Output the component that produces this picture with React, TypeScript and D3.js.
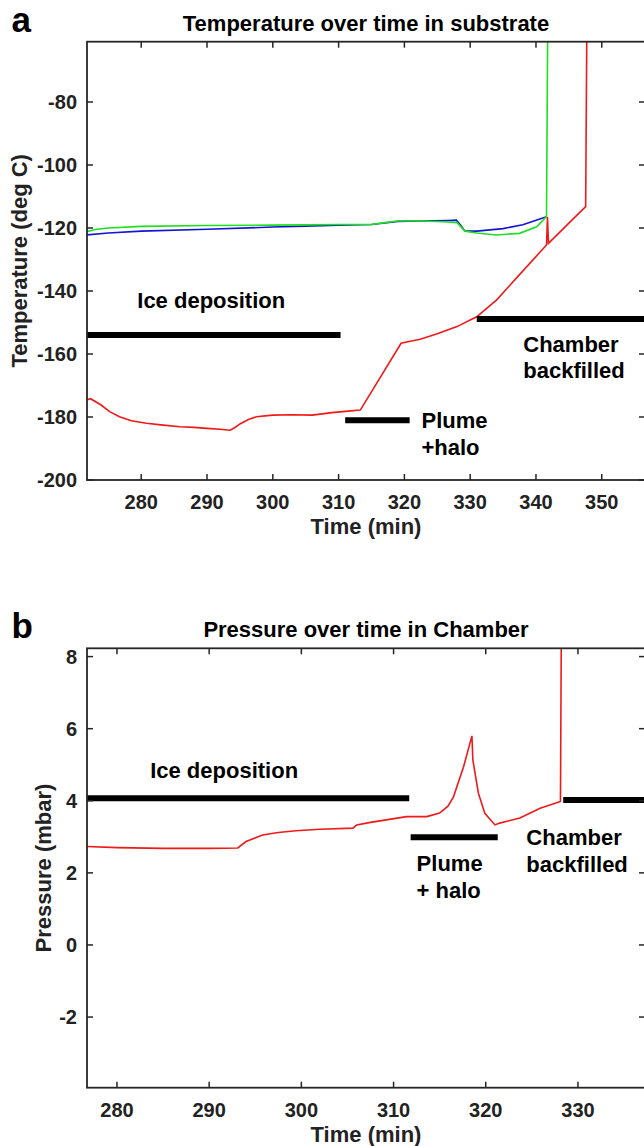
import React from "react";
import * as d3 from "d3";

// tick values
const tempTimeTicks = [280, 290, 300, 310, 320, 330, 340, 350];
const tempTicks = [-200, -180, -160, -140, -120, -100, -80];
const pressTimeTicks = [280, 290, 300, 310, 320, 330];
const pressTicks = [-2, 0, 2, 4, 6, 8];

// panel a: temperature traces [time (min), deg C]
const tempRed: [number, number][] = [
  [271.7, -174.6], [272.3, -174.2], [273.9, -176.2], [275.2, -178.3], [276.7, -179.9],
  [278.5, -181.2], [280.8, -182], [283, -182.5], [285.9, -183.1], [288, -183.3],
  [290, -183.6], [292, -183.9], [293.5, -184.2], [294.2, -183.4], [295, -182.2],
  [296.3, -180.8], [297.5, -179.9], [300, -179.4], [303, -179.3], [306, -179.4],
  [309, -178.6], [311, -178.2], [313.3, -177.8], [319.5, -156.6], [320.5, -156.1],
  [322.4, -155.3], [325, -153.6], [328, -151.3], [330.3, -148.9], [331, -148.2],
  [332.5, -145.5], [334, -142.9], [337.5, -134.8], [341.6, -125.4], [341.75, -116.5],
  [341.9, -124.9], [344.5, -119.5], [347.55, -113.2], [347.75, -50],
];
const tempGreen: [number, number][] = [
  [271.7, -121.2], [273, -120.5], [275, -120], [280, -119.5], [290, -119.2],
  [300, -119.1], [305, -119], [310, -118.9], [315, -118.9], [317, -118.3],
  [319, -117.8], [322.4, -117.8], [326, -118], [328, -118.3], [329.2, -121],
  [331, -121.6], [334, -122.2], [337.5, -121.7], [340.1, -119.6], [341.6, -116.4],
  [341.8, -50],
];
const tempBlue: [number, number][] = [
  [271.7, -122.2], [275, -121.6], [280, -121], [290, -120.4], [300, -119.7],
  [305, -119.4], [310, -119.1], [315, -118.9], [317, -118.4], [319, -117.9],
  [322.4, -117.8], [326.6, -117.6], [327.9, -117.5], [328.5, -119], [329.2, -121],
  [331, -121], [335, -120.2], [338, -119], [341.6, -116.4],
];

// panel b: chamber pressure [time (min), mbar]
const pressRed: [number, number][] = [
  [276.75, 2.73], [280, 2.7], [285, 2.68], [290, 2.68], [293.1, 2.69], [294, 2.87],
  [295.8, 3.05], [297.5, 3.12], [299.4, 3.17], [302, 3.21], [305.6, 3.24], [306, 3.33],
  [307.5, 3.4], [309.2, 3.47], [311.4, 3.56], [313.6, 3.56], [315, 3.66], [315.9, 3.85],
  [316.5, 4.11], [317.6, 4.95], [318.5, 5.8], [318.6, 5.13], [319.2, 4.21], [319.9, 3.65],
  [321, 3.33], [321.5, 3.38], [323.7, 3.52], [325.9, 3.79], [328.1, 3.98], [328.2, 9],
];

// phase bars [start, end, level]
const tempBars: [number, number, number][] = [
  [271.7, 310.3, -154], [311.0, 320.8, -181], [331.0, 360, -148.9],
];
const pressBars: [number, number, number][] = [
  [276.75, 311.7, 4.07], [311.85, 321.3, 2.99], [328.4, 340, 4.02],
];

// phase labels [time, level, lines]
const tempNotes: [number, number, string[]][] = [
  [279.4, -145.4, ["Ice deposition"]],
  [322.6, -183.5, ["Plume", "+halo"]],
  [338.07, -159.3, ["Chamber", "backfilled"]],
];
const pressNotes: [number, number, string[]][] = [
  [283.6, 4.63, ["Ice deposition"]],
  [312.5, 2.05, ["Plume", "+ halo"]],
  [324.4, 2.77, ["Chamber", "backfilled"]],
];

const font = "'Liberation Sans', Arial, Helvetica, sans-serif";
const axisColor = "#262626";

type Series = { data: [number, number][]; color: string };

function Panel(props: {
  id: string;
  letter: string;
  letterY: number;
  title: string;
  yLabel: string;
  yLabelX: number;
  top: number;
  bottom: number;
  xDomain: [number, number];
  yDomain: [number, number];
  xTicks: number[];
  yTicks: number[];
  series: Series[];
  bars: [number, number, number][];
  notes: [number, number, string[]][];
}) {
  const left = 87;
  const right = 645;
  const { top, bottom } = props;
  const x = d3.scaleLinear().domain(props.xDomain).range([left, right]);
  const y = d3.scaleLinear().domain(props.yDomain).range([bottom, top]);
  const line = d3
    .line<[number, number]>()
    .x((d) => x(d[0]))
    .y((d) => y(d[1]));
  const cx = (left + right) / 2;
  const tl = 6;

  return (
    <g>
      <defs>
        <clipPath id={props.id}>
          <rect x={left} y={top} width={right - left} height={bottom - top} />
        </clipPath>
      </defs>
      <text x={11.5} y={props.letterY} fontSize={35} fontWeight="bold" fontFamily={font}>
        {props.letter}
      </text>
      <text x={cx} y={top - 11} textAnchor="middle" fontSize={22} fontWeight="bold" fontFamily={font}>
        {props.title}
      </text>

      <g clipPath={`url(#${props.id})`}>
        {props.series.map((s, i) => (
          <path key={i} d={line(s.data) || ""} fill="none" stroke={s.color} strokeWidth={1.6} />
        ))}
        {props.bars.map((b, i) => (
          <line key={i} x1={x(b[0])} x2={x(b[1])} y1={y(b[2])} y2={y(b[2])} stroke="#000" strokeWidth={6} />
        ))}
      </g>

      {props.notes.map((n, i) => (
        <text key={i} x={x(n[0])} y={y(n[1])} fontSize={22} fontWeight="bold" fontFamily={font}>
          {n[2].map((s, j) => (
            <tspan key={j} x={x(n[0])} dy={j === 0 ? 0 : 26.5}>
              {s}
            </tspan>
          ))}
        </text>
      ))}

      {/* frame */}
      <rect x={left} y={top} width={right - left} height={bottom - top} fill="none" stroke={axisColor} strokeWidth={1.8} />
      {props.xTicks.map((t) => (
        <g key={t}>
          <line x1={x(t)} x2={x(t)} y1={bottom} y2={bottom - tl} stroke={axisColor} strokeWidth={1.5} />
          <line x1={x(t)} x2={x(t)} y1={top} y2={top + tl} stroke={axisColor} strokeWidth={1.5} />
          <text x={x(t)} y={bottom + 29} textAnchor="middle" fontSize={20} fontWeight="bold" fontFamily={font} fill="#222">
            {t}
          </text>
        </g>
      ))}
      {props.yTicks.map((t) => (
        <g key={t}>
          <line x1={left} x2={left + tl} y1={y(t)} y2={y(t)} stroke={axisColor} strokeWidth={1.5} />
          <line x1={right} x2={right - tl} y1={y(t)} y2={y(t)} stroke={axisColor} strokeWidth={1.5} />
          <text x={left - 10} y={y(t)} dy="0.36em" textAnchor="end" fontSize={20} fontWeight="bold" fontFamily={font} fill="#222">
            {t}
          </text>
        </g>
      ))}
      <text x={cx} y={bottom + 54} textAnchor="middle" fontSize={22} fontWeight="bold" fontFamily={font} fill="#222">
        Time (min)
      </text>
      <text
        transform={`translate(${props.yLabelX},${(top + bottom) / 2}) rotate(-90)`}
        textAnchor="middle"
        fontSize={22}
        fontWeight="bold"
        fontFamily={font}
        fill="#222"
      >
        {props.yLabel}
      </text>
    </g>
  );
}

export default function App() {
  return (
    <svg width={644} height={1146} style={{ position: "absolute", left: 0, top: 0, background: "#fff" }}>
      <rect width={644} height={1146} fill="#fff" />
      <Panel
        id="clipA"
        letter="a"
        letterY={32}
        title="Temperature over time in substrate"
        yLabel="Temperature (deg C)"
        yLabelX={27}
        top={41.7}
        bottom={480}
        xDomain={[271.76, 356.57]}
        yDomain={[-200, -60.86]}
        xTicks={tempTimeTicks}
        yTicks={tempTicks}
        series={[
          { data: tempBlue, color: "#1414d2" },
          { data: tempGreen, color: "#1ee01e" },
          { data: tempRed, color: "#f01818" },
        ]}
        bars={tempBars}
        notes={tempNotes}
      />
      <Panel
        id="clipB"
        letter="b"
        letterY={638}
        title="Pressure over time in Chamber"
        yLabel="Pressure (mbar)"
        yLabelX={51}
        top={648.3}
        bottom={1087.7}
        xDomain={[276.75, 337.27]}
        yDomain={[-3.96, 8.23]}
        xTicks={pressTimeTicks}
        yTicks={pressTicks}
        series={[{ data: pressRed, color: "#f01818" }]}
        bars={pressBars}
        notes={pressNotes}
      />
    </svg>
  );
}
